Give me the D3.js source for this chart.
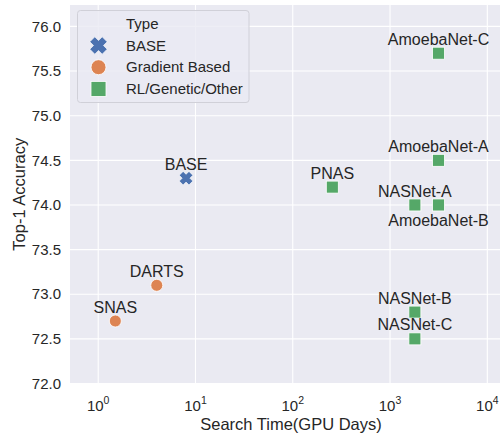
<!DOCTYPE html>
<html><head><meta charset="utf-8">
<script src="https://cdn.jsdelivr.net/npm/d3@7"></script>
<style>body{margin:0;background:#fff}text{font-family:"Liberation Sans",Arial,sans-serif;fill:#262626}</style>
</head><body><svg id="c" width="500" height="434"></svg>
<script>
const names = ["BASE","DARTS","SNAS","PNAS","AmoebaNet-C","AmoebaNet-A","AmoebaNet-B","NASNet-A","NASNet-B","NASNet-C"];
const searchDays = [8, 4, 1.5, 255, 3150, 3150, 3150, 1800, 1800, 1800];
const accuracy = [74.3, 73.1, 72.7, 74.2, 75.7, 74.5, 74.0, 74.0, 72.8, 72.5];
const types = ["BASE","Gradient Based","Gradient Based","RL/Genetic/Other","RL/Genetic/Other","RL/Genetic/Other","RL/Genetic/Other","RL/Genetic/Other","RL/Genetic/Other","RL/Genetic/Other"];
const labelBelow = [false,false,false,false,false,false,true,false,false,false];
const typeNames = ["BASE","Gradient Based","RL/Genetic/Other"];
const typeColors = ["#4c72b0","#dd8452","#55a868"];
const yTicks = [72.0,72.5,73.0,73.5,74.0,74.5,75.0,75.5,76.0];
const xTicks = [1,10,100,1000,10000];

const svg = d3.select("#c");
const L=70,R=500,T=5,B=383.5;
const x = d3.scaleLog().domain([0.513, 13500]).range([L,R]);
const y = d3.scaleLinear().domain([72.0, 76.24]).range([B,T]);
const color = d3.scaleOrdinal().domain(typeNames).range(typeColors);

svg.append("rect").attr("x",L).attr("y",T).attr("width",R-L).attr("height",B-T).attr("fill","#eaeaf2");
const g = svg.append("g");
g.selectAll(".gy").data(yTicks).join("line").attr("x1",L).attr("x2",R)
 .attr("y1",d=>y(d)).attr("y2",d=>y(d)).attr("stroke","#fff").attr("stroke-width",1.1);
g.selectAll(".gx").data(xTicks).join("line").attr("y1",T).attr("y2",B)
 .attr("x1",d=>x(d)).attr("x2",d=>x(d)).attr("stroke","#fff").attr("stroke-width",1.1);

svg.selectAll(".yt").data(yTicks).join("text").attr("x",L-9).attr("y",d=>y(d)).attr("dy","0.35em")
 .attr("text-anchor","end").attr("font-size",15).text(d=>d.toFixed(1));
const xt = svg.selectAll(".xt").data(xTicks).join("text").attr("x",d=>x(d)).attr("y",411)
 .attr("text-anchor","middle").attr("font-size",15);
xt.append("tspan").text("10");
xt.append("tspan").attr("dy",-7).attr("font-size",10.5).text(d=>Math.round(Math.log10(d)));

svg.append("text").attr("x",291).attr("y",430).attr("text-anchor","middle").attr("font-size",16.5).text("Search Time(GPU Days)");
svg.append("text").attr("transform",`translate(25,${(T+B)/2}) rotate(-90)`).attr("text-anchor","middle").attr("font-size",16.5).text("Top-1 Accuracy");

const xPath = s => {
  const a = s/2, w = s*0.2;
  const p = [[-w,-a],[w,-a],[w,-w],[a,-w],[a,w],[w,w],[w,a],[-w,a],[-w,w],[-a,w],[-a,-w],[-w,-w]];
  return "M"+p.map(q=>q.join(",")).join("L")+"Z";
};
function marker(sel, type, s){
  const c = color(type);
  if(type==="BASE"){
    sel.append("path").attr("d",xPath(s*1.25)).attr("transform","rotate(45)").attr("fill",c).attr("stroke","#fff").attr("stroke-width",0.6);
  } else if(type==="Gradient Based"){
    sel.append("circle").attr("r",s/2).attr("fill",c).attr("stroke","#fff").attr("stroke-width",0.8);
  } else {
    sel.append("rect").attr("x",-s/2).attr("y",-s/2).attr("width",s).attr("height",s).attr("fill",c).attr("stroke","#fff").attr("stroke-width",0.8);
  }
}
const pts = d3.range(names.length);
pts.forEach(i=>{
  const gp = svg.append("g").attr("transform",`translate(${x(searchDays[i])},${y(accuracy[i])})`);
  marker(gp, types[i], types[i]==="BASE"?11:12);
  svg.append("text").attr("x",x(searchDays[i])).attr("y",y(accuracy[i])+(labelBelow[i]?15:-14)).attr("dy","0.35em")
    .attr("text-anchor","middle").attr("font-size",16).text(names[i]);
});

// legend
const lg = svg.append("g");
lg.append("rect").attr("x",77.5).attr("y",10.5).attr("width",171.5).attr("height",92).attr("rx",3)
  .attr("fill","#eaeaf2").attr("fill-opacity",0.8).attr("stroke","#d0d0d8");
lg.append("text").attr("x",126).attr("y",24).attr("dy","0.35em").attr("font-size",15).text("Type");
typeNames.forEach((t,i)=>{
  const yy = 45.5+i*21.7;
  const m = lg.append("g").attr("transform",`translate(98.5,${yy})`);
  marker(m,t,t==="BASE"?14:15);
  lg.append("text").attr("x",126).attr("y",yy).attr("dy","0.35em").attr("font-size",15).text(t);
});
</script></body></html>
